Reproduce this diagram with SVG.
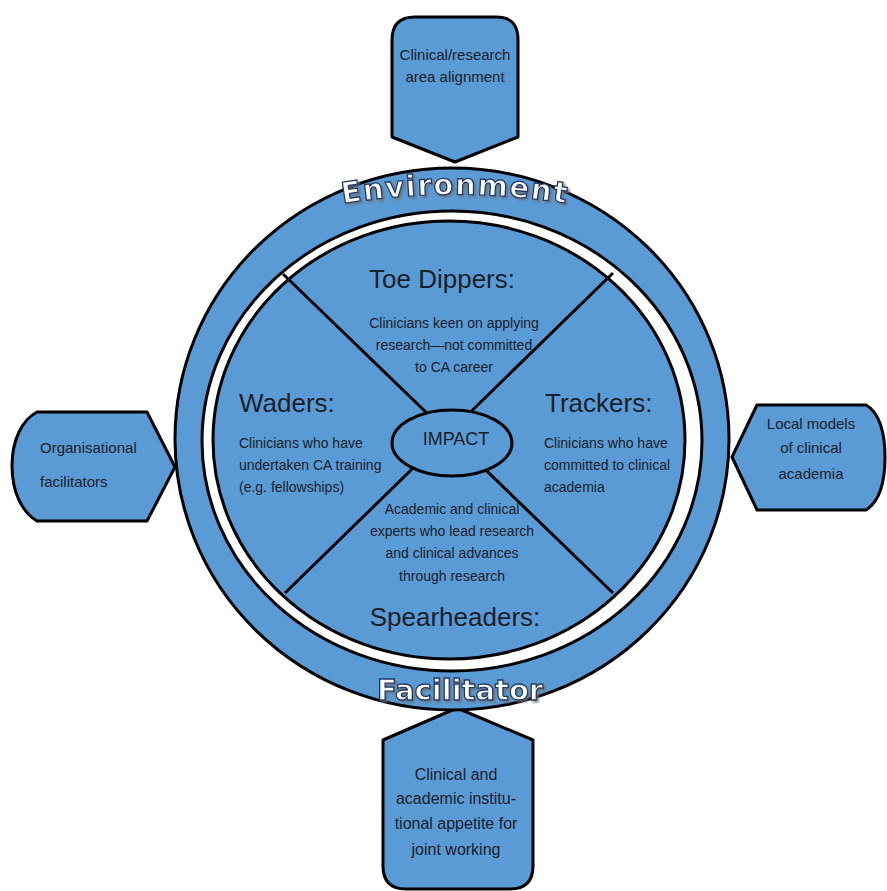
<svg xmlns="http://www.w3.org/2000/svg" width="887" height="891" viewBox="0 0 887 891">
<defs>
<style>
.box{fill:#5b9bd5;stroke:#000;stroke-width:3;stroke-linejoin:round}
.t{font-family:"Liberation Sans",Arial,sans-serif;fill:#18202a}
.bt{font-size:15px}
.dt{font-size:14px}
.hd{font-size:26px}
.wa{font-family:"DejaVu Sans","Liberation Sans",sans-serif;font-weight:bold;fill:#ffffff;stroke:#203864;stroke-width:1.3;filter:url(#shadow)}
</style>
<filter id="shadow" x="-10%" y="-30%" width="120%" height="160%">
<feDropShadow dx="2" dy="2" stdDeviation="1" flood-color="#6b7078" flood-opacity="0.8"/>
</filter>
<path id="envArc" d="M300,212 A 700 700 0 0 1 610,212"/>
</defs>
<rect width="887" height="891" fill="#fff"/>

<g id="box-top">
<path class="box" d="M392,137 V40 C392,24 400,17 415,17 H496 C511,17 518,24 518,40 V137 L455,162 Z"/>
<text class="t bt" text-anchor="middle"><tspan x="455" y="60">Clinical/research</tspan><tspan x="455" y="82">area alignment</tspan></text>
</g>
<g id="box-left">
<path class="box" d="M37,412 H147 L175,467 L147,521 H37 C22,512 12,492 12,466 C12,440 22,420 37,412 Z"/>
<text class="t bt"><tspan x="40" y="453">Organisational</tspan><tspan x="40" y="487">facilitators</tspan></text>
</g>
<g id="box-right">
<path class="box" d="M757,405 H866 C879,412 885,432 885,457 C885,482 879,502 866,510 H757 L732,457 Z"/>
<text class="t bt" text-anchor="middle"><tspan x="811" y="429">Local models</tspan><tspan x="811" y="453">of clinical</tspan><tspan x="811" y="479">academia</tspan></text>
</g>
<g id="box-bottom">
<path class="box" d="M457,708 L533,740 V866 C533,881 526,889 510,889 H406 C390,889 383,881 383,866 V740 Z"/>
<text class="t" font-size="16" text-anchor="middle"><tspan x="456" y="780">Clinical and</tspan><tspan x="456" y="804">academic institu-</tspan><tspan x="456" y="829">tional appetite for</tspan><tspan x="456" y="855">joint working</tspan></text>
</g>

<g id="ring">
<ellipse cx="452" cy="439" rx="277" ry="271" fill="#5b9bd5" stroke="#000" stroke-width="3"/>
<ellipse cx="452" cy="441" rx="250" ry="230" fill="#fff" stroke="#000" stroke-width="3"/>
<ellipse cx="449" cy="440" rx="236" ry="219" fill="#5b9bd5" stroke="#000" stroke-width="3"/>
</g>

<g id="dividers" stroke="#000" stroke-width="3">
<line x1="283" y1="274" x2="613" y2="593"/>
<line x1="613" y1="273" x2="285" y2="593"/>
</g>

<g id="impact">
<ellipse cx="452" cy="443" rx="60" ry="33" fill="#5b9bd5" stroke="#000" stroke-width="3"/>
<text class="t" x="456" y="445" font-size="18" text-anchor="middle">IMPACT</text>
</g>

<g id="toe-dippers">
<text class="t hd" x="442" y="288" text-anchor="middle">Toe Dippers:</text>
<text class="t dt" text-anchor="middle"><tspan x="454" y="328">Clinicians keen on applying</tspan><tspan x="454" y="350">research—not committed</tspan><tspan x="454" y="372">to CA career</tspan></text>
</g>
<g id="waders">
<text class="t hd" x="239" y="412">Waders:</text>
<text class="t dt"><tspan x="239" y="448">Clinicians who have</tspan><tspan x="239" y="470">undertaken CA training</tspan><tspan x="239" y="492">(e.g. fellowships)</tspan></text>
</g>
<g id="trackers">
<text class="t hd" x="545" y="412">Trackers:</text>
<text class="t dt"><tspan x="544" y="448">Clinicians who have</tspan><tspan x="544" y="470">committed to clinical</tspan><tspan x="544" y="492">academia</tspan></text>
</g>
<g id="spearheaders">
<text class="t dt" text-anchor="middle"><tspan x="452" y="514">Academic and clinical</tspan><tspan x="452" y="536">experts who lead research</tspan><tspan x="452" y="558">and clinical advances</tspan><tspan x="452" y="581">through research</tspan></text>
<text class="t hd" x="455" y="626" text-anchor="middle">Spearheaders:</text>
</g>

<g id="label-environment">
<text class="wa" font-size="29" letter-spacing="1.5" text-anchor="middle"><textPath href="#envArc" startOffset="50%">Environment</textPath></text>
</g>
<g id="label-facilitator">
<text class="wa" x="460" y="700" font-size="29" text-anchor="middle">Facilitator</text>
</g>
</svg>
